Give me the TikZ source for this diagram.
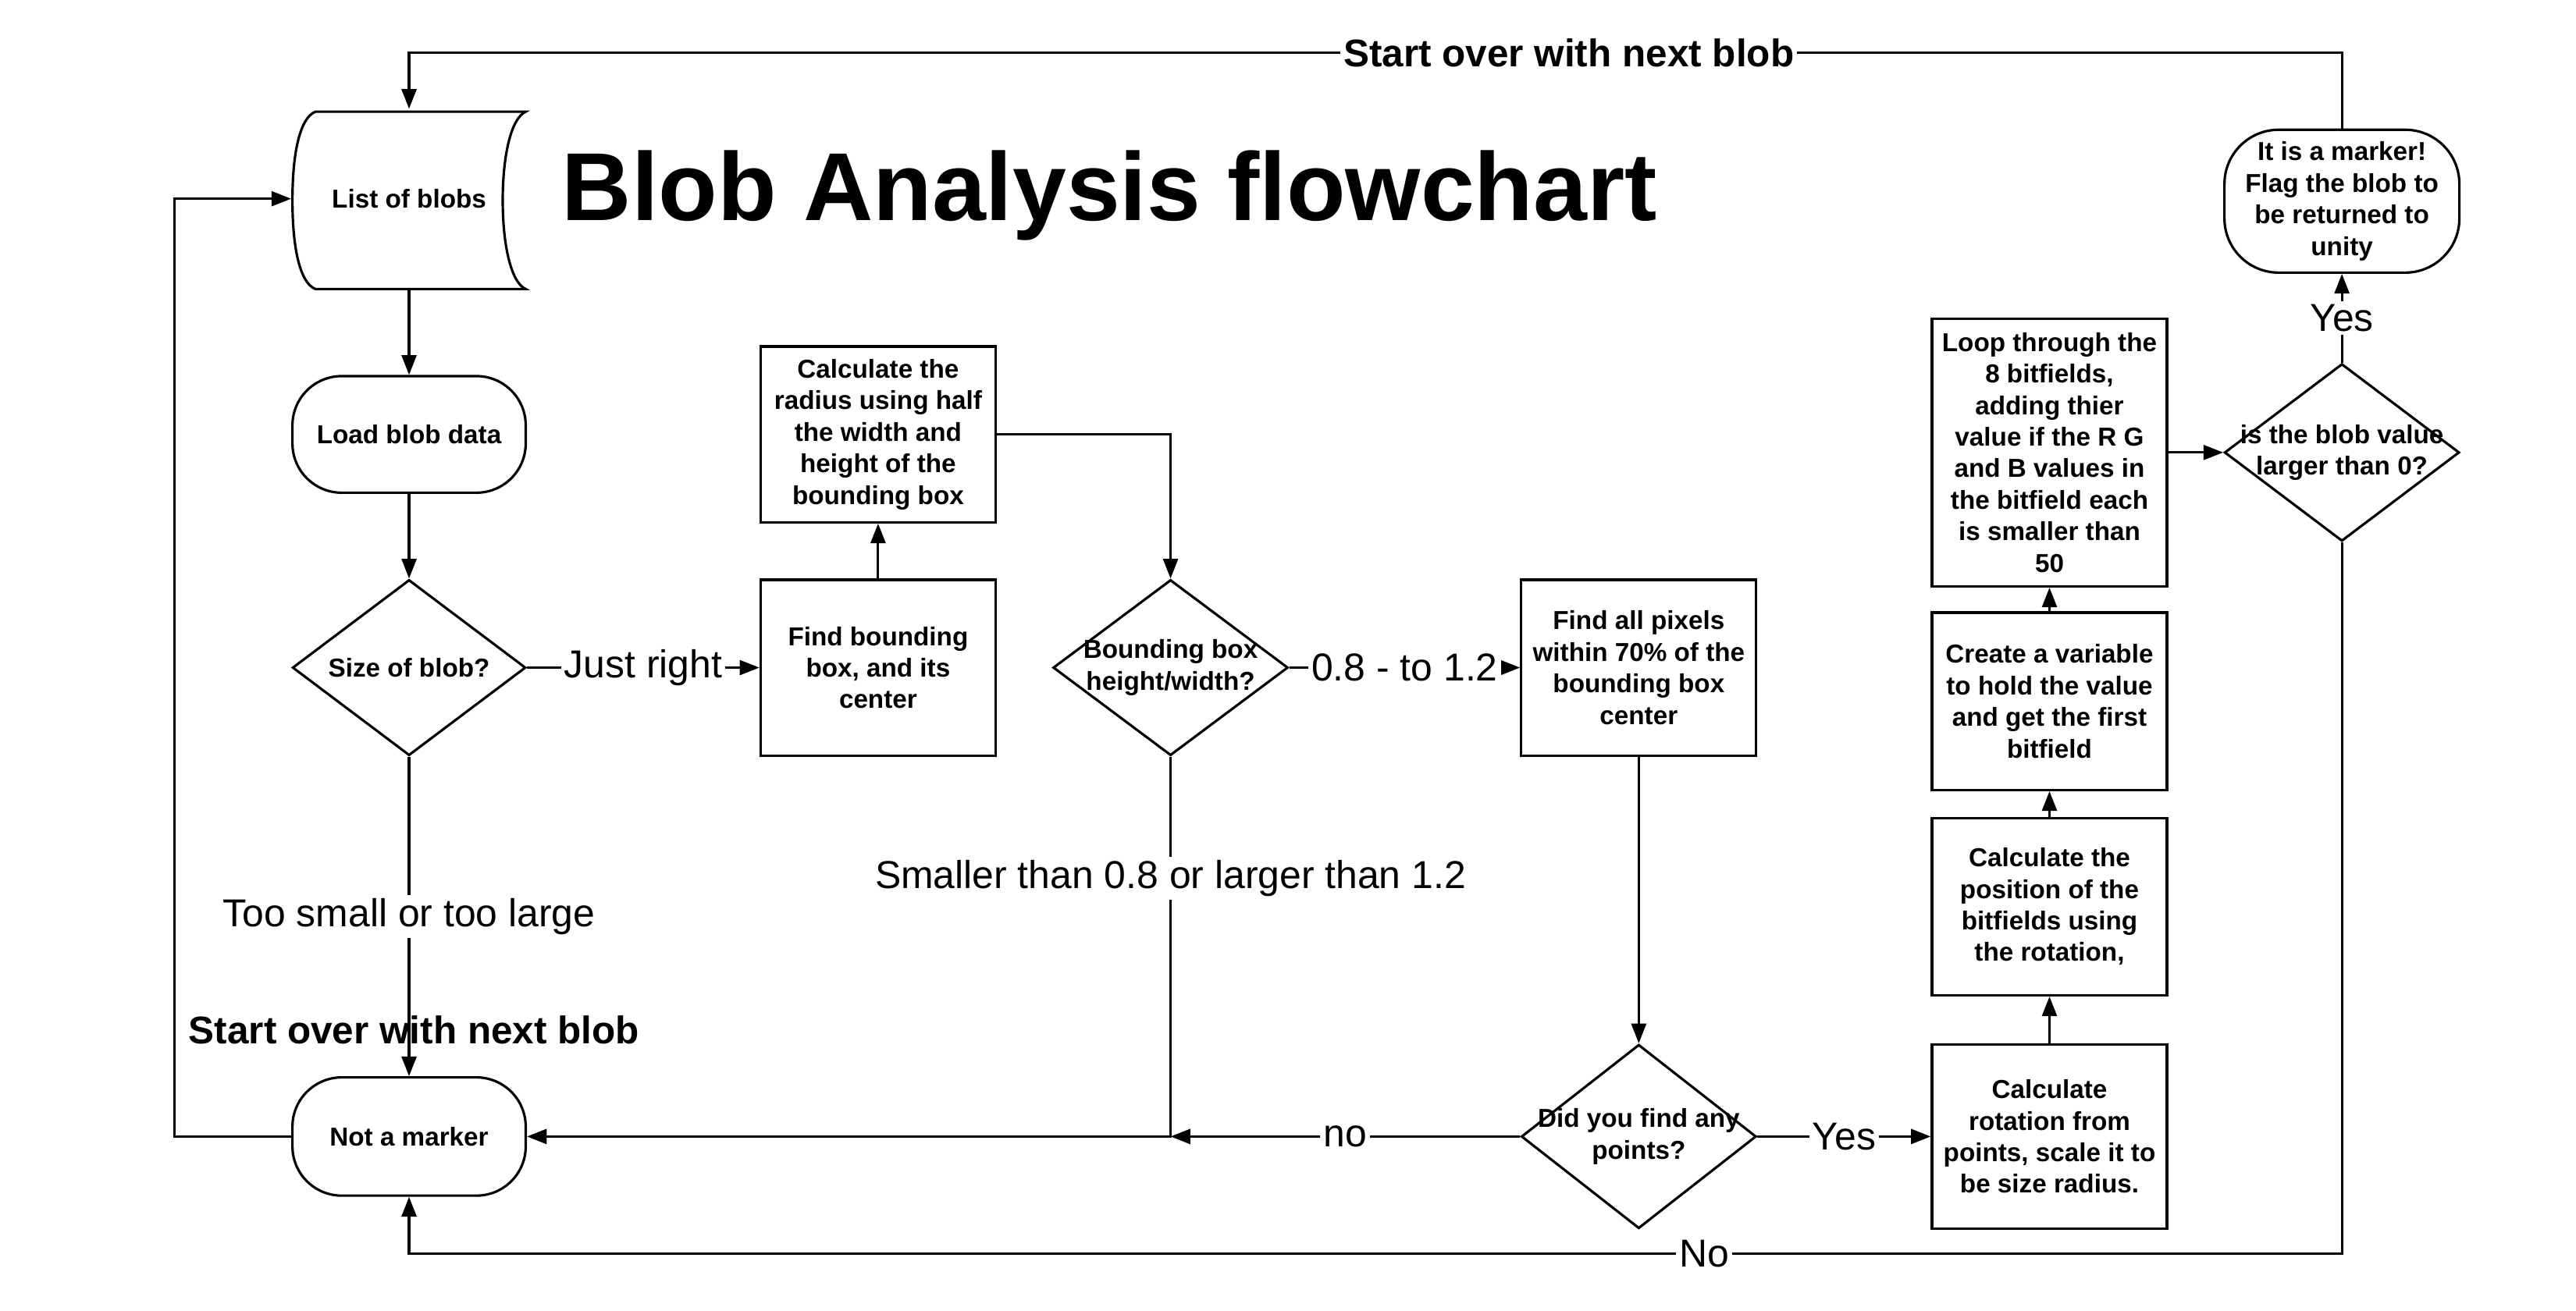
\documentclass[tikz,border=0pt]{standalone}
\usepackage{fontspec}
\setmainfont{Liberation Sans}
\usepackage{tikz}
\usetikzlibrary{arrows.meta,shapes.geometric,calc}

\begin{document}
\begin{tikzpicture}[x=1pt,y=1pt,line width=1.5pt,
    txt/.style={font=\bfseries\fontsize{15.8}{19.2}\selectfont,align=center},
    box/.style={draw,txt,rectangle,minimum width=143pt,minimum height=107pt,inner sep=0pt},
    term/.style={draw,txt,rectangle,rounded corners=30pt,minimum width=142pt,minimum height=71pt,inner sep=0pt},
    choice/.style={draw,diamond,minimum width=143pt,minimum height=107pt,inner sep=0pt},
    lbl/.style={fill=white,inner sep=2pt,font=\fontsize{23.7}{28}\selectfont},
    big/.style={font=\bfseries\fontsize{23.5}{28}\selectfont},
    arr/.style={-{Triangle[length=12pt,width=9pt]}}]

      \useasboundingbox (0,0) rectangle (1568,-798);

      \node[font=\bfseries\fontsize{58.8}{70}\selectfont,anchor=base west] (title) at (338,-134) {Blob Analysis flowchart};

      \node[txt,minimum width=142pt,minimum height=108pt,inner sep=0pt] (blobs) at (249,-121) {List of blobs};
      \draw (192,-68) -- (320,-68)
            .. controls (311,-72) and (306,-95) .. (306,-122)
            .. controls (306,-149) and (311,-172) .. (320,-176)
            -- (192,-176)
            .. controls (182,-172) and (178,-149) .. (178,-122)
            .. controls (178,-95) and (182,-72) .. (192,-68) -- cycle;

      \node[term] (load) at (249,-264.5) {Load blob data};
      \node[choice,minimum width=142pt,label={[txt]center:{Size of blob?}}] (size) at (249,-406.5) {};
      \node[term,minimum height=72pt] (notm) at (249,-692) {Not a marker};
      \node[big] (again) at (252,-627) {Start over with next blob};

      \node[box] (findbb) at (534.5,-406.5) {Find bounding\\box, and its\\center};
      \node[box] (radius) at (534.5,-264.5) {Calculate the\\radius using half\\the width and\\height of the\\bounding box};
      \node[choice,label={[txt]center:{Bounding box\\height/width?}}] (bbhw) at (712.5,-406.5) {};
      \coordinate (join) at (712.5,-692);

      \node[box] (pixels) at (997.5,-406.5) {Find all pixels\\within 70\% of the\\bounding box\\center};
      \node[choice,minimum height=112pt,label={[txt]center:{Did you find any\\points?}}] (found) at (997.5,-692) {};

      \node[box,minimum height=112pt] (rot) at (1247.5,-692) {Calculate\\rotation from\\points, scale it to\\be size radius.};
      \node[box,minimum height=108pt] (pos) at (1247.5,-552) {Calculate the\\position of the\\bitfields using\\the rotation,};
      \node[box,minimum height=108pt] (var) at (1247.5,-427) {Create a variable\\to hold the value\\and get the first\\bitfield};
      \node[box,minimum height=163pt] (loop) at (1247.5,-275.5) {Loop through the\\8 bitfields,\\adding thier\\value if the R G\\and B values in\\the bitfield each\\is smaller than\\50};

      \node[choice,minimum height=108pt,label={[txt]center:{is the blob value\\larger than 0?}}] (value) at (1425.5,-275.5) {};
      \node[term,minimum width=143pt,minimum height=87pt,rounded corners=33pt] (marker) at (1425.5,-122.5) {It is a marker!\\Flag the blob to\\be returned to\\unity};

      \draw[arr] (blobs) -- (load);
      \draw[arr] (load) -- (size);
      \draw[arr] (size) -- node[lbl] {Just right} (findbb);
      \draw[arr] (size) -- node[lbl] {Too small or too large} (notm);
      \draw[arr] (findbb) -- (radius);
      \draw[arr] (radius.east) -| (bbhw.north);
      \draw[arr] (bbhw) -- node[lbl] {0.8 - to 1.2} (pixels);
      \draw[arr] (bbhw.south) -- node[lbl,pos=0.32] {Smaller than 0.8 or larger than 1.2} (join) -- (notm);
      \draw[arr] (pixels) -- (found);
      \draw[arr] (found) -- node[lbl] {no} (join);
      \draw[arr] (found) -- node[lbl] {Yes} (rot);
      \draw[arr] (rot) -- (pos);
      \draw[arr] (pos) -- (var);
      \draw[arr] (var) -- (loop);
      \draw[arr] (loop) -- (value);
      \draw[arr] (value) -- node[lbl] {Yes} (marker);
      \draw[arr] (value.south) -- ++(0,-433) -| node[lbl,pos=0.165] {No} (notm.south);
      \draw[arr] (marker.north) -- ++(0,46) -| node[lbl,pos=0.2,font=\bfseries\fontsize{23.5}{28}\selectfont] {Start over with next blob} (blobs.north);
      \draw[arr] (notm.west) -- ++(-71,0) |- (blobs.west);

\end{tikzpicture}
\end{document}
